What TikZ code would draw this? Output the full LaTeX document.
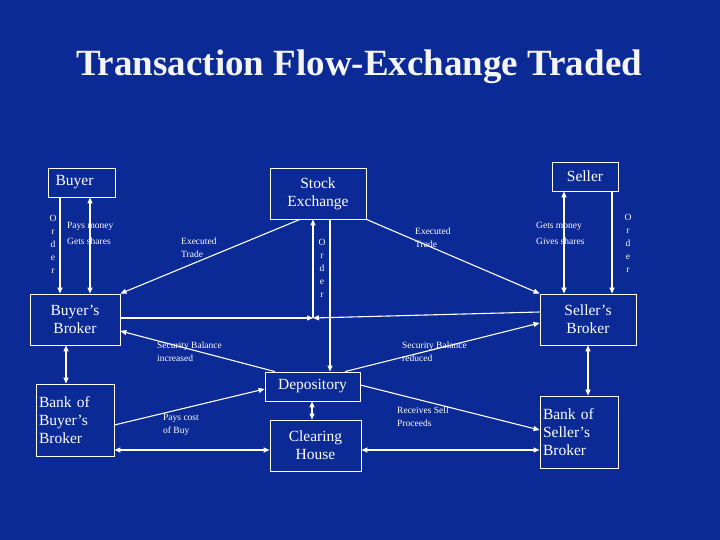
\documentclass[tikz,border=0pt]{standalone}
\usepackage{fontspec}
\setmainfont{Liberation Serif}
\usetikzlibrary{arrows.meta,calc}
\definecolor{bg}{RGB}{12,42,150}
\begin{document}
\begin{tikzpicture}[x=1pt,y=-1pt,
  box/.style={draw=white,line width=0.8pt,text=white,font=\fontsize{15.5}{18}\selectfont,align=center,inner sep=0pt},
  lab/.style={text=white,font=\fontsize{9.5}{13}\selectfont,align=left,inner sep=0pt,anchor=north west},
  vlab/.style={text=white,font=\fontsize{9.5}{13}\selectfont,align=center,inner sep=0pt},
  con/.style={draw=white,line width=1.1pt},
  arr/.style={con,-{Triangle[length=6pt,width=5pt]}},
  darr/.style={con,{Triangle[length=6pt,width=5pt]}-{Triangle[length=6pt,width=5pt]}}]
\fill[bg] (0,0) rectangle (720,540);
\useasboundingbox (0,0) rectangle (720,540);
\node[text=white!92!gray,font=\bfseries\fontsize{37}{44}\selectfont] (title) at (359,67) {Transaction Flow-Exchange Traded};

\node[box,minimum width=67,minimum height=29,align=left] (buyer) at (81.5,182.5) {Buyer\hspace*{14pt}};
\node[box,minimum width=96,minimum height=51] (se) at (318,193.5) {Stock\\Exchange};
\node[box,minimum width=66,minimum height=29] (seller) at (585,176.5) {Seller};
\node[box,minimum width=90,minimum height=51] (bb) at (75,319.5) {Buyer's\\Broker};
\node[box,minimum width=96,minimum height=51] (sb) at (588,319.5) {Seller's\\Broker};
\node[box,minimum width=95,minimum height=29] (dep) at (312.5,386.5) {Depository};
\node[box,minimum width=91,minimum height=51] (ch) at (315.5,445.5) {Clearing\\House};
\node[box,minimum width=78,minimum height=72,align=left,text width=72pt] (bankb) at (75,420) {Bank of\\Buyer's\\Broker};
\node[box,minimum width=78,minimum height=72,align=left,text width=72pt] (banks) at (579,432) {Bank of\\Seller's\\Broker};

\coordinate (m) at (313,318);

\draw[arr] (buyer.south -| 60,0) -- (bb.north -| 60,0);
\draw[darr] (buyer.south -| 90,0) -- (bb.north -| 90,0);
\node[vlab] (o1) at (53,244) {O\\r\\d\\e\\r};
\node[lab] (pm) at (67,222) {Pays money\\[3pt]Gets shares};
\draw[darr] (seller.south -| 564,0) -- (sb.north -| 564,0);
\draw[arr] (seller.south -| 612,0) -- (sb.north -| 612,0);
\node[vlab] (o3) at (628,243) {O\\r\\d\\e\\r};
\node[lab] (gm) at (536,222) {Gets money\\[3pt]Gives shares};
\draw[arr] (bb.east |- m) -- (m);
\draw[arr] (sb.west |- 0,312) -- (m);
\draw[arr] (m) -- (se.south -| m);
\node[vlab] (o2) at (322,268) {O\\r\\d\\e\\r};
\draw[arr] (se.south -| 300,0) -- (bb.north east);
\node[lab] (et1) at (181,238) {Executed\\Trade};
\draw[arr] (se.south east) -- (sb.north west);
\node[lab] (et2) at (415,228) {Executed\\Trade};
\draw[arr] (se.south -| 330,0) -- (dep.north -| 330,0);
\draw[arr] (dep.north -| 275,0) -- (bb.east |- 0,331);
\node[lab] (sbi) at (157,342) {Security Balance\\increased};
\draw[arr] (dep.north -| 345,0) -- (sb.west |- 0,323);
\node[lab] (sbr) at (402,342) {Security Balance\\reduced};
\draw[arr] (bankb.east |- 0,425) -- (dep.west |- 0,389);
\node[lab] (pc) at (163,414) {Pays cost\\of Buy};
\draw[arr] (dep.east |- 0,385) -- (banks.west |- 0,430);
\node[lab] (rsp) at (397,407) {Receives Sell\\Proceeds};
\draw[darr] (dep.south -| 312,0) -- (ch.north -| 312,0);
\draw[darr] (bankb.east |- 0,450) -- (ch.west |- 0,450);
\draw[darr] (ch.east |- 0,450) -- (banks.west |- 0,450);
\draw[darr] (bb.south -| 66,0) -- (bankb.north -| 66,0);
\draw[darr] (sb.south -| 588,0) -- (banks.north -| 588,0);
\end{tikzpicture}
\end{document}
